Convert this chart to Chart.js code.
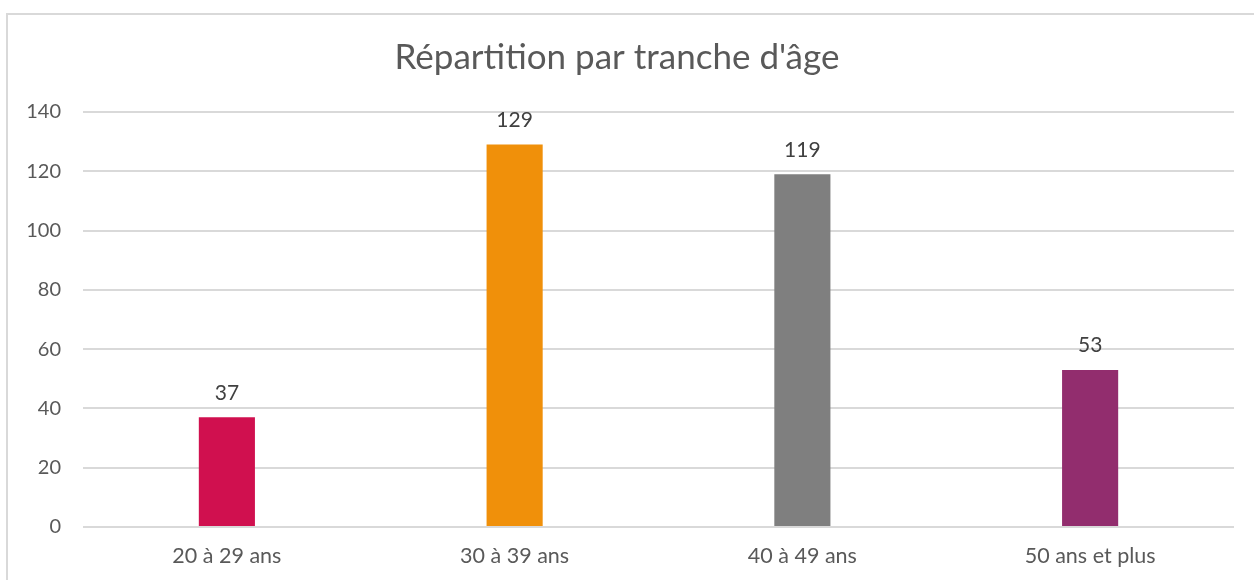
<!DOCTYPE html>
<html lang="fr">
<head>
<meta charset="utf-8">
<title>Répartition par tranche d'âge</title>
<script src="https://cdn.jsdelivr.net/npm/chart.js@4.4.1/dist/chart.umd.min.js"></script>
<style>
  html, body { margin: 0; padding: 0; background: #fff; overflow: hidden; }
  #wrap { position: relative; width: 1254px; height: 580px; overflow: hidden; }
  #frame { position: absolute; left: 6px; top: 13px; width: 1300px; height: 700px;
           border: 2px solid #D9D9D9; box-sizing: border-box; }
  #chartBox { position: absolute; left: 0; top: 0; width: 1254px; height: 580px; }
</style>
</head>
<body>
<div id="wrap">
  <div id="frame"></div>
  <div id="chartBox"><canvas id="ageChart"></canvas></div>
</div>
<script>
'use strict';
// ---------------------- Data -----------------
const ageGroups = ['20 à 29 ans', '30 à 39 ans', '40 à 49 ans', '50 ans et plus'];
const headcount = [37, 129, 119, 53];
const barColors = ['#D0104F', '#F0900A', '#7F7F7F', '#922D6E'];
const yTicks = [0, 20, 40, 60, 80, 100, 120, 140];

const fontFamily = 'Lato, "Open Sans", sans-serif';

// ---------------------- Plugins -----------------
const valueLabels = {
  id: 'valueLabels',
  afterDatasetsDraw(chart) {
    const ctx = chart.ctx;
    const meta = chart.getDatasetMeta(0);
    ctx.save();
    ctx.font = '21px ' + fontFamily;
    ctx.fillStyle = '#404040';
    ctx.textAlign = 'center';
    ctx.textBaseline = 'bottom';
    meta.data.forEach((bar, i) => {
      ctx.fillText(String(headcount[i]), bar.x, bar.y - 14);
    });
    ctx.restore();
  }
};

// ---------------------- Chart -----------------
const context = document.getElementById('ageChart').getContext('2d');
const ageChart = new Chart(context, {
  type: 'bar',
  data: {
    labels: ageGroups,
    datasets: [{
      label: 'Effectif',
      data: headcount,
      backgroundColor: barColors,
      borderWidth: 0,
      categoryPercentage: 1,
      barPercentage: 0.195
    }]
  },
  options: {
    responsive: true,
    maintainAspectRatio: false,
    animation: false,
    layout: { padding: { left: 0, right: 20, top: 37, bottom: 0 } },
    plugins: {
      legend: { display: false },
      tooltip: { enabled: false },
      title: {
        display: true,
        text: "Répartition par tranche d'âge",
        color: '#595959',
        font: { family: fontFamily, size: 35, weight: 'normal' },
        padding: { top: 0, bottom: 33 }
      }
    },
    scales: {
      x: {
        grid: { display: false, drawTicks: false },
        border: { display: false },
        ticks: { color: '#595959', font: { family: fontFamily, size: 21.5 }, padding: 16 },
        afterFit(scale) { scale.height = 53; }
      },
      y: {
        min: 0,
        max: 140,
        grid: { color: '#D9D9D9', lineWidth: 2, drawTicks: false },
        border: { display: false },
        afterBuildTicks(scale) { scale.ticks = yTicks.map(v => ({ value: v })); },
        ticks: { color: '#595959', font: { family: fontFamily, size: 20 }, padding: 22 },
        afterFit(scale) { scale.width = 83; }
      }
    }
  },
  plugins: [valueLabels]
});
</script>
</body>
</html>
